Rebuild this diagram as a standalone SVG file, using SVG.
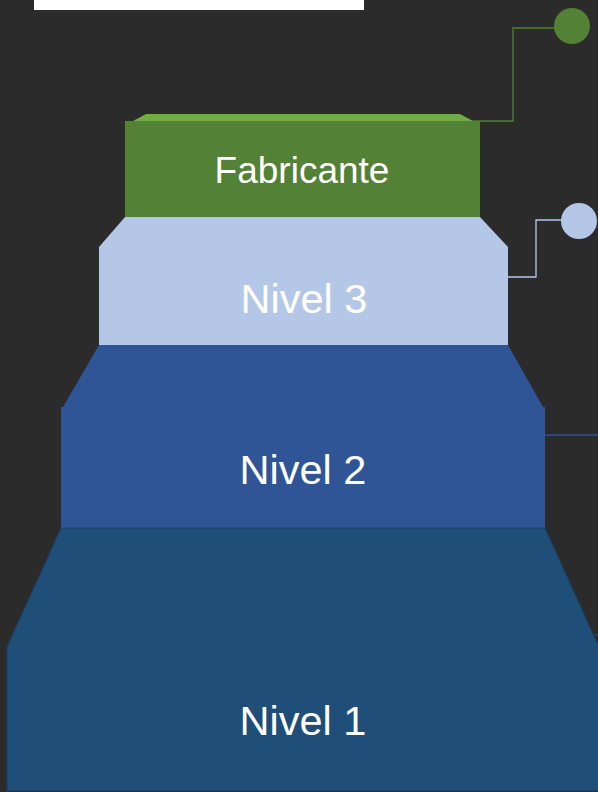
<svg xmlns="http://www.w3.org/2000/svg" width="598" height="792" viewBox="0 0 598 792">
<style>
.lbl{font-family:"Liberation Sans",Arial,sans-serif;fill:#FFFFFF;text-anchor:middle}
.conn{fill:none;stroke-width:1.3}
</style>
<rect x="0" y="0" width="598" height="792" fill="#2B2B2B"/>
<rect x="34" y="0" width="330" height="10" fill="#FFFFFF"/>
<g id="connectors">
<polyline class="conn" stroke="#538135" points="473,121 513,121 513,28 556,28"/>
<circle cx="572" cy="26" r="18" fill="#538135"/>
<polyline class="conn" stroke="#B4C7E7" points="508,277 536,277 536,220 563,220"/>
<circle cx="579" cy="221" r="18" fill="#B4C7E7"/>
<line class="conn" stroke="#2F5597" x1="545" y1="435" x2="598" y2="435"/>
<line class="conn" stroke="#1F4E79" x1="593" y1="635" x2="598" y2="635"/>
</g>
<g id="nivel1">
<polygon points="61,528 545,528 599,647 599,791 7,791 7,647" fill="#1F4E79" stroke="#1c3f60" stroke-width="1"/>
<text class="lbl" x="303" y="735" font-size="41.5">Nivel 1</text>
</g>
<g id="nivel2">
<polygon points="99,345 508,345 543,407 545,407 545,528 61,528 61,407 63,407" fill="#2F5597"/>
<line x1="61" y1="528" x2="545" y2="528" stroke="#24406e" stroke-width="1"/>
<text class="lbl" x="303" y="484" font-size="41.5">Nivel 2</text>
</g>
<g id="nivel3">
<polygon points="125,217 480,217 508,247 508,345 99,345 99,247" fill="#B4C7E7"/>
<text class="lbl" x="304" y="313" font-size="41.5">Nivel 3</text>
</g>
<g id="fabricante">
<polygon points="133,121 146,114 460,114 473,121" fill="#70AD47"/>
<rect x="125" y="121" width="355" height="96" fill="#538135"/>
<text class="lbl" x="302" y="183" font-size="37">Fabricante</text>
</g>
</svg>
